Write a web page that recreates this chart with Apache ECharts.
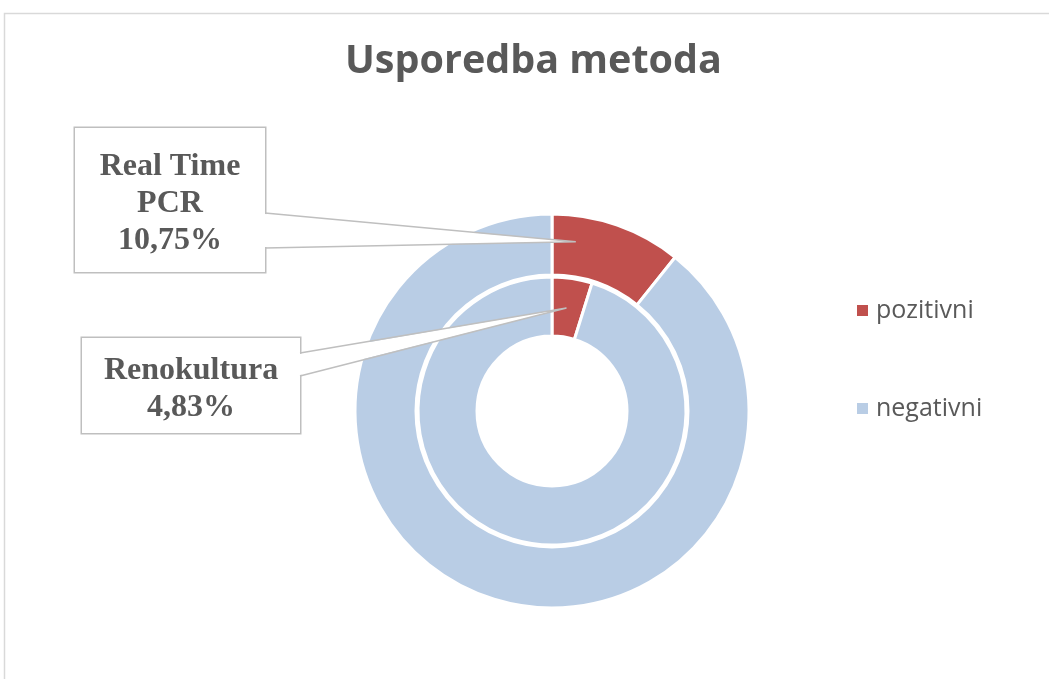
<!DOCTYPE html>
<html>
<head>
<meta charset="utf-8">
<script src="https://cdn.jsdelivr.net/npm/echarts@6/dist/echarts.min.js"></script>
<style>
  html, body { margin: 0; padding: 0; background: #fff; }
  #chart { width: 1049px; height: 679px; }
</style>
</head>
<body>
<div id="chart"></div>
<script>
// podaci
const categories = ['pozitivni', 'negativni']
const pcrValues = [10.75, 89.25]       // Real Time PCR (vanjski prsten)
const renoValues = [4.83, 95.17]       // Renokultura (unutarnji prsten)
const seriesNames = ['Real Time\nPCR', 'Renokultura']

const colors = ['#C0504D', '#B9CDE5']
const center = [552, 411]
const textColor = '#595959'

// callout boxes (left, top, width, height)
const boxes = [
  { x: 75, y: 128, w: 190, h: 144, pad: [20, 0, 13, 0] },
  { x: 82, y: 338, w: 218, h: 95, pad: [14, 0, 7, 0] }
]
// where the wedge leaves the box and where it points to
const wedgeBase = [[213, 248], [353, 376]]
const tipRadius = [171, 104]
const tipAngle = 8 // degrees from 12 o'clock

function fmt (v) {
  return v.toFixed(2).replace('.', ',') + '%'
}

function buildData (values, idx) {
  return values.map((v, i) => {
    const item = { name: categories[i], value: v }
    if (i === 0) {
      const b = boxes[idx]
      item.label = {
        show: true,
        formatter: seriesNames[idx] + '\n' + fmt(v),
        fontFamily: 'Liberation Serif',
        fontWeight: 'bold',
        fontSize: 32,
        lineHeight: 37,
        color: textColor,
        align: 'center',
        width: b.w,
        padding: b.pad,
        backgroundColor: '#fff',
        borderColor: '#bfbfbf',
        borderWidth: 1.5
      }
    } else {
      item.label = { show: false }
    }
    return item
  })
}

// callout wedge: white fill (also hides the box border where it opens) + two grey sides
function wedge (idx) {
  const b = boxes[idx]
  const rad = tipAngle * Math.PI / 180
  const tip = [center[0] + tipRadius[idx] * Math.sin(rad), center[1] - tipRadius[idx] * Math.cos(rad)]
  const bx = b.x + b.w
  const p0 = [bx, wedgeBase[idx][0]]
  const p1 = [bx, wedgeBase[idx][1]]
  return [
    {
      type: 'polygon',
      z: 100,
      silent: true,
      shape: { points: [[bx - 3, p0[1] + 1], [bx, p0[1] + 1], tip, [bx, p1[1] - 1], [bx - 3, p1[1] - 1]] },
      style: { fill: '#fff' }
    },
    {
      type: 'polyline',
      z: 101,
      silent: true,
      shape: { points: [p0, tip, p1] },
      style: { fill: null, stroke: '#bfbfbf', lineWidth: 1.5 }
    }
  ]
}

function ring (name, values, idx, radius) {
  const b = boxes[idx]
  return {
    name: name,
    type: 'pie',
    center: center,
    radius: radius,
    startAngle: 90,
    clockwise: true,
    avoidLabelOverlap: false,
    itemStyle: { borderColor: '#fff', borderWidth: 3 },
    label: { show: false },
    labelLine: { show: false },
    labelLayout: { x: b.x + b.w / 2, y: b.y, verticalAlign: 'top', align: 'center', hideOverlap: false },
    emphasis: { disabled: true },
    data: buildData(values, idx)
  }
}

const chart = echarts.init(document.getElementById('chart'))
const option = {
  backgroundColor: '#fff',
  color: colors,
  animation: false,
  title: {
    text: 'Usporedba metoda',
    left: 340,
    top: 37,
    textStyle: {
      fontFamily: 'Open Sans',
      fontWeight: 'bold',
      fontSize: 39.5,
      color: textColor
    }
  },
  legend: {
    orient: 'vertical',
    left: 850,
    top: 293,
    itemWidth: 13,
    itemHeight: 13,
    itemGap: 73,
    icon: 'rect',
    data: categories,
    textStyle: {
      fontFamily: 'Open Sans',
      fontSize: 25,
      color: textColor,
      padding: [0, 0, 0, 2]
    }
  },
  graphic: [
    {
      type: 'rect',
      silent: true,
      z: -10,
      shape: { x: 4.5, y: 13.5, width: 1100, height: 700 },
      style: { fill: 'none', stroke: '#d9d9d9', lineWidth: 1.5 }
    }
  ].concat(wedge(0), wedge(1)),
  series: [
    ring('Real Time PCR', pcrValues, 0, [136, 197]),
    ring('Renokultura', renoValues, 1, [75, 134])
  ]
}
chart.setOption(option)
</script>
</body>
</html>
